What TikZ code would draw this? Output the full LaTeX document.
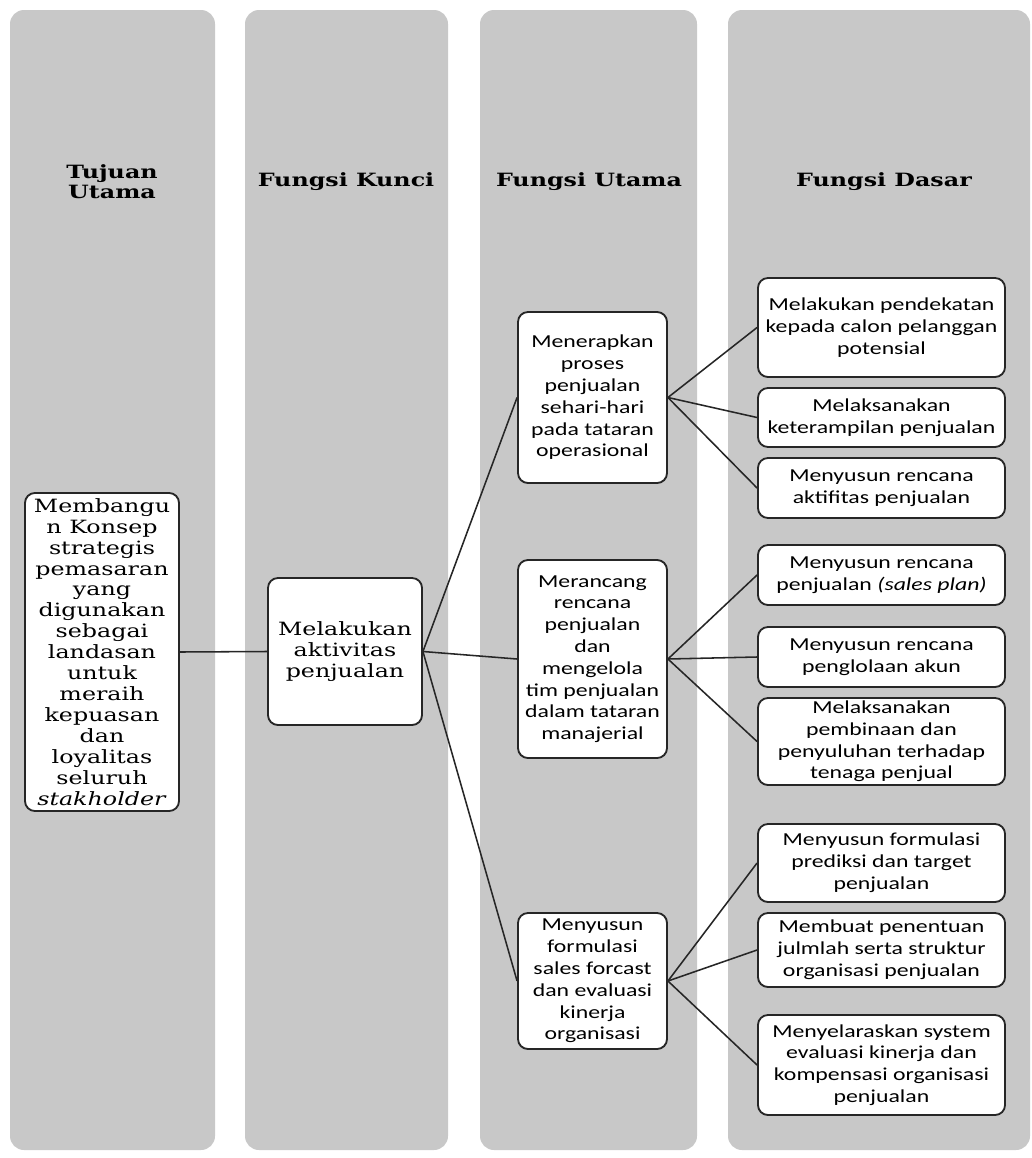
\documentclass[tikz,border=0pt]{standalone}
\usepackage{fontspec}
\newfontfamily\slabfont[FakeStretch=1.3]{DejaVu Serif}
\newfontfamily\calfont[FakeStretch=1.3]{Carlito}
\definecolor{columngray}{RGB}{200,200,200}

\begin{document}
\begin{tikzpicture}[x=0.025cm, y=-0.025cm,
    column/.style ={fill=columngray, rounded corners=0.35cm},
    header/.style ={font=\slabfont\bfseries\fontsize{13}{14}\selectfont, align=center},
    serifbox/.style ={draw=black!85, fill=white, line width=1.3pt, rounded corners=0.25cm, inner sep=0pt, align=center, font=\slabfont\fontsize{13}{14.9}\selectfont, minimum width=3.85cm},
    mainbox/.style ={draw=black!85, fill=white, line width=1.3pt, rounded corners=0.25cm, inner sep=0pt, align=center, font=\calfont\fontsize{13}{15.5}\selectfont, minimum width=3.725cm},
    basebox/.style ={mainbox, minimum width=6.175cm},
    link/.style ={draw=black!85, line width=1.1pt}]
   \useasboundingbox (0,0) rectangle (1032,1158);
   \fill[column] (10,10) rectangle (215,1150);
   \fill[column] (245,10) rectangle (448,1150);
   \fill[column] (480,10) rectangle (697,1150);
   \fill[column] (728,10) rectangle (1030,1150);

   \node[header] (HT) at (112,182) {Tujuan\\Utama};
   \node[header] (HK) at (346,182) {Fungsi Kunci};
   \node[header] (HU) at (589,182) {Fungsi Utama};
   \node[header] (HD) at (884,182) {Fungsi Dasar};

   \node[serifbox, minimum height=7.95cm] (T) at (102,652) {Membangu\\n Konsep\\strategis\\pemasaran\\yang\\digunakan\\sebagai\\landasan\\untuk\\meraih\\kepuasan\\dan\\loyalitas\\seluruh\\\textit{stakholder}};
   \node[serifbox, minimum height=3.675cm] (K) at (345,651.5) {Melakukan\\aktivitas\\penjualan};

   \node[mainbox, minimum height=4.275cm] (U1) at (592.5,397.5) {Menerapkan\\proses\\penjualan\\sehari-hari\\pada tataran\\operasional};
   \node[mainbox, minimum height=4.95cm] (U2) at (592.5,659) {Merancang\\rencana\\penjualan\\dan\\mengelola\\tim penjualan\\dalam tataran\\manajerial};
   \node[mainbox, minimum height=3.4cm] (U3) at (592.5,981) {Menyusun\\formulasi\\sales forcast\\dan evaluasi\\kinerja\\organisasi};

   \node[basebox, minimum height=2.475cm] (D1) at (881.5,327.5) {Melakukan pendekatan\\kepada calon pelanggan\\potensial};
   \node[basebox, minimum height=1.475cm] (D2) at (881.5,417.5) {Melaksanakan\\keterampilan penjualan};
   \node[basebox, minimum height=1.5cm] (D3) at (881.5,488) {Menyusun rencana\\aktifitas penjualan};
   \node[basebox, minimum height=1.5cm] (D4) at (881.5,575) {Menyusun rencana\\penjualan \textit{(sales plan)}};
   \node[basebox, minimum height=1.5cm] (D5) at (881.5,657) {Menyusun rencana\\penglolaan akun};
   \node[basebox, minimum height=2.175cm] (D6) at (881.5,741.5) {Melaksanakan\\pembinaan dan\\penyuluhan terhadap\\tenaga penjual};
   \node[basebox, minimum height=1.95cm] (D7) at (881.5,863) {Menyusun formulasi\\prediksi dan target\\penjualan};
   \node[basebox, minimum height=1.85cm] (D8) at (881.5,950) {Membuat penentuan\\julmlah serta struktur\\organisasi penjualan};
   \node[basebox, minimum height=2.5cm] (D9) at (881.5,1065) {Menyelaraskan system\\evaluasi kinerja dan\\kompensasi organisasi\\penjualan};

   \draw[link] (T.east) to (K.west);
   \draw[link] (K.east) to (U1.west);
   \draw[link] (K.east) to (U2.west);
   \draw[link] (K.east) to (U3.west);
   \draw[link] (U1.east) to (D1.west);
   \draw[link] (U1.east) to (D2.west);
   \draw[link] (U1.east) to (D3.west);
   \draw[link] (U2.east) to (D4.west);
   \draw[link] (U2.east) to (D5.west);
   \draw[link] (U2.east) to (D6.west);
   \draw[link] (U3.east) to (D7.west);
   \draw[link] (U3.east) to (D8.west);
   \draw[link] (U3.east) to (D9.west);
 \end{tikzpicture}
\end{document}
